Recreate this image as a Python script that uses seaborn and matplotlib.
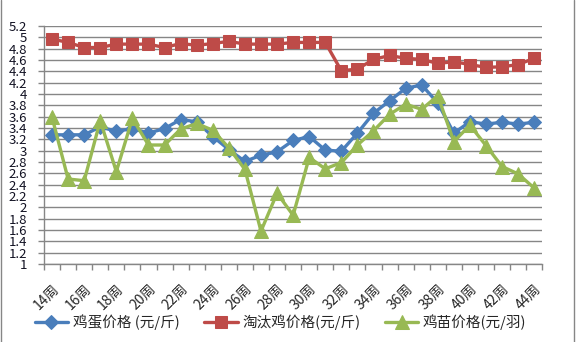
import matplotlib
matplotlib.use("Agg")
import matplotlib.pyplot as plt
import seaborn as sns
import pandas as pd
import numpy as np
from matplotlib.ticker import FixedLocator, MultipleLocator

weeks = [f"{w}周" for w in range(14, 45)]
egg = [3.28, 3.28, 3.28, 3.42, 3.34, 3.39, 3.31, 3.39, 3.55, 3.51, 3.25, 3.02, 2.81, 2.92, 2.98, 3.18,
       3.25, 3.01, 2.99, 3.31, 3.66, 3.88, 4.10, 4.16, 3.84, 3.31, 3.51, 3.47, 3.50, 3.47, 3.50]
hen = [4.97, 4.91, 4.82, 4.82, 4.88, 4.88, 4.88, 4.82, 4.89, 4.86, 4.89, 4.93, 4.88, 4.88, 4.88, 4.91,
       4.91, 4.91, 4.41, 4.44, 4.61, 4.68, 4.63, 4.61, 4.54, 4.57, 4.52, 4.47, 4.48, 4.52, 4.63]
chick = [3.59, 2.50, 2.47, 3.53, 2.63, 3.57, 3.10, 3.10, 3.38, 3.48, 3.36, 3.05, 2.67, 1.58, 2.25, 1.86,
         2.88, 2.68, 2.79, 3.10, 3.35, 3.64, 3.82, 3.73, 3.97, 3.16, 3.45, 3.09, 2.72, 2.59, 2.34]
series_names = ["鸡蛋价格 (元/斤)", "淘汰鸡价格(元/斤)", "鸡苗价格(元/羽)"]
y_ticks = [round(1 + 0.2 * i, 1) for i in range(22)]

sns.set_theme(style="white")
plt.rcParams['font.family'] = ['Noto Sans CJK SC', 'DejaVu Sans']

fig = plt.figure(figsize=(5.76, 3.42), dpi=100)
ax = fig.add_axes([0.0764, 0.228, 0.865, 0.696])

pos = np.arange(len(weeks))
colors = ["#4A7EBB", "#BE4B48", "#98B954"]
markers = ["D", "s", "^"]
msizes = [7, 8.5, 9.5]
for vals, name, c, m, ms in zip([egg, hen, chick], series_names, colors, markers, msizes):
    sns.lineplot(x=pos, y=vals, ax=ax, color=c, marker=m, markersize=ms, linewidth=2.4,
                 markeredgecolor=c, label=name, legend=False)

ax.set_xlim(-0.5, len(weeks) - 0.5)
ax.set_ylim(1, 5.2)
ax.set_yticks(y_ticks)
ax.set_yticklabels([f"{v:g}" for v in y_ticks], fontsize=9.5, color="#111122")
ax.yaxis.grid(True, color="#868686", linewidth=1)
ax.xaxis.grid(False)
ax.set_xticks(pos[::2])
ax.set_xticklabels(weeks[::2], rotation=45, ha="right", rotation_mode="anchor", fontsize=10)
ax.xaxis.set_minor_locator(FixedLocator(np.arange(-0.5, len(weeks), 1)))
ax.tick_params(axis="x", which="major", length=0, pad=13)
ax.tick_params(axis="x", which="minor", length=4, color="#868686", width=1, direction="out", bottom=True)
ax.tick_params(axis="y", which="major", length=4, color="#868686", width=1, direction="out", left=True, pad=8)
for s in ["top", "right"]:
    ax.spines[s].set_visible(False)
for s in ["left", "bottom"]:
    ax.spines[s].set_color("#868686")
    ax.spines[s].set_linewidth(1)
ax.set_xlabel("")
ax.set_ylabel("")

handles, labels = ax.get_legend_handles_labels()
fig.legend(handles, labels, loc="center", bbox_to_anchor=(0.487, 0.058), ncol=3, frameon=False,
           fontsize=10.5, handlelength=2.3, columnspacing=1.7, handletextpad=0.3, borderpad=0)

fig.add_artist(plt.Line2D([0.002, 0.002], [0, 1], color="#868686", lw=1, transform=fig.transFigure))
fig.add_artist(plt.Line2D([0.996, 0.996], [0, 1], color="#868686", lw=1, transform=fig.transFigure))

fig.savefig("out.png", dpi=100)
